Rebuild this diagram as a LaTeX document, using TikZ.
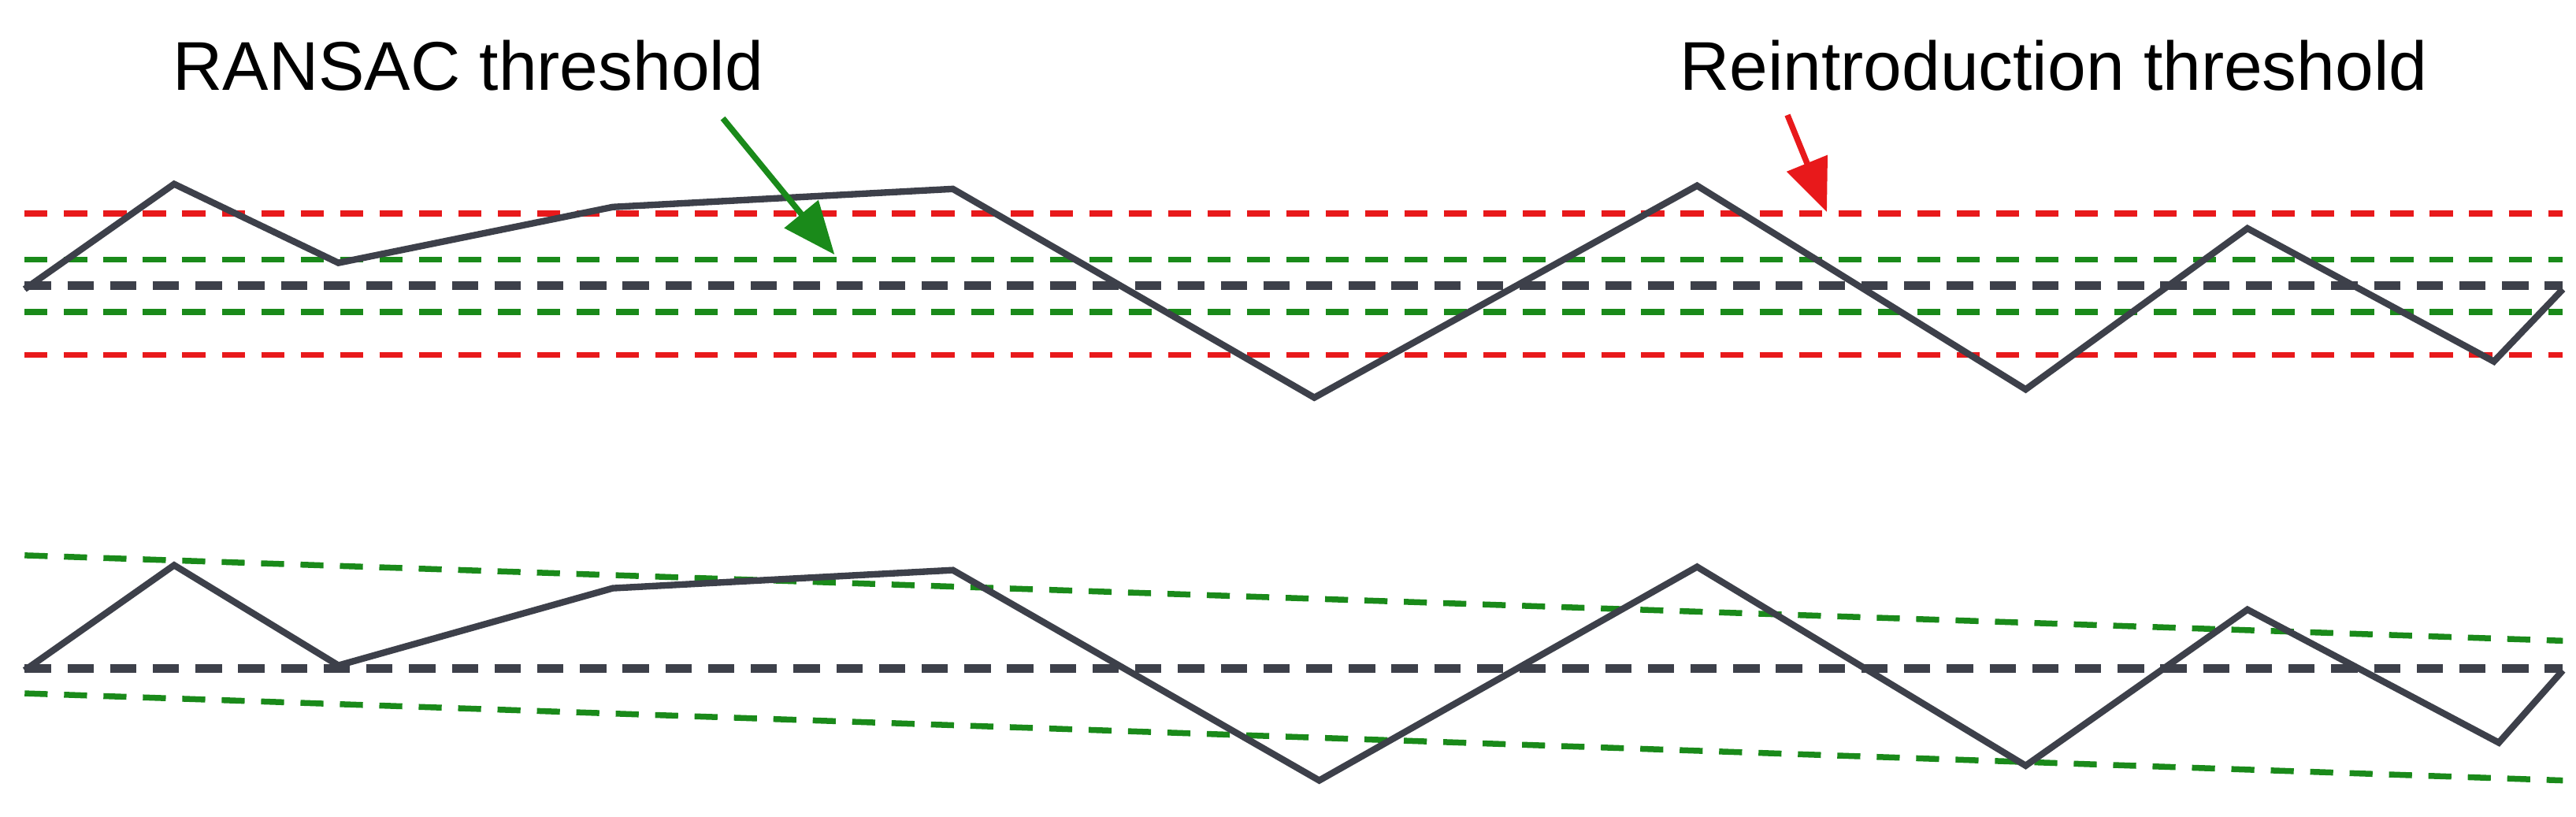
\documentclass[tikz,border=0pt]{standalone}
\usepackage{fontspec}
\setmainfont{Liberation Sans}
\usetikzlibrary{arrows.meta}
\definecolor{dk}{HTML}{3D404A}
\definecolor{rd}{HTML}{E8191B}
\definecolor{gn}{HTML}{1A8A1A}
\begin{document}
\begin{tikzpicture}[x=0.5pt,y=-0.5pt,
  sig/.style={dk,line width=2pt,line join=miter},
  dsh/.style={line width=1.8pt,dash pattern=on 7pt off 5pt},
  mid/.style={dk,line width=2.6pt,dash pattern=on 8pt off 5pt},
  lbl/.style={font=\fontsize{21}{24}\selectfont,inner sep=0pt},
  arr/.style={line width=1.8pt,-{Triangle[length=16pt,width=13pt]}}]
\useasboundingbox (0,0) rectangle (1568,497);
% top
\draw[dsh,rd] (15,130) -- (1560,130);
\draw[dsh,rd] (15,216) -- (1560,216);
\draw[dsh,gn] (15,158) -- (1560,158);
\draw[dsh,gn] (15,190) -- (1560,190);
\draw[mid] (15,174) -- (1560,174);
\draw[sig] (15,176) -- (106,112) -- (206,160) -- (373,126) -- (580,115) -- (800,242) -- (1033,113) -- (1233,237) -- (1368,139) -- (1518,220) -- (1560,176);
\node[lbl] (r) at (285,40) {RANSAC threshold};
\node[lbl] (t) at (1250,40) {Reintroduction threshold};
\coordinate (ra) at (440,72); \coordinate (rb) at (508,155);
\coordinate (ta) at (1088,70); \coordinate (tb) at (1112,129);
\draw[arr,gn] (ra) -- (rb);
\draw[arr,rd] (ta) -- (tb);
% bottom
\draw[dsh,gn] (15,338) -- (1560,390);
\draw[dsh,gn] (15,422) -- (1560,475);
\draw[mid] (15,407) -- (1560,407);
\draw[sig] (15,408) -- (106,344) -- (206,405) -- (373,358) -- (580,347) -- (803,475) -- (1033,345) -- (1233,466) -- (1368,371) -- (1521,452) -- (1560,408);
\end{tikzpicture}
\end{document}
